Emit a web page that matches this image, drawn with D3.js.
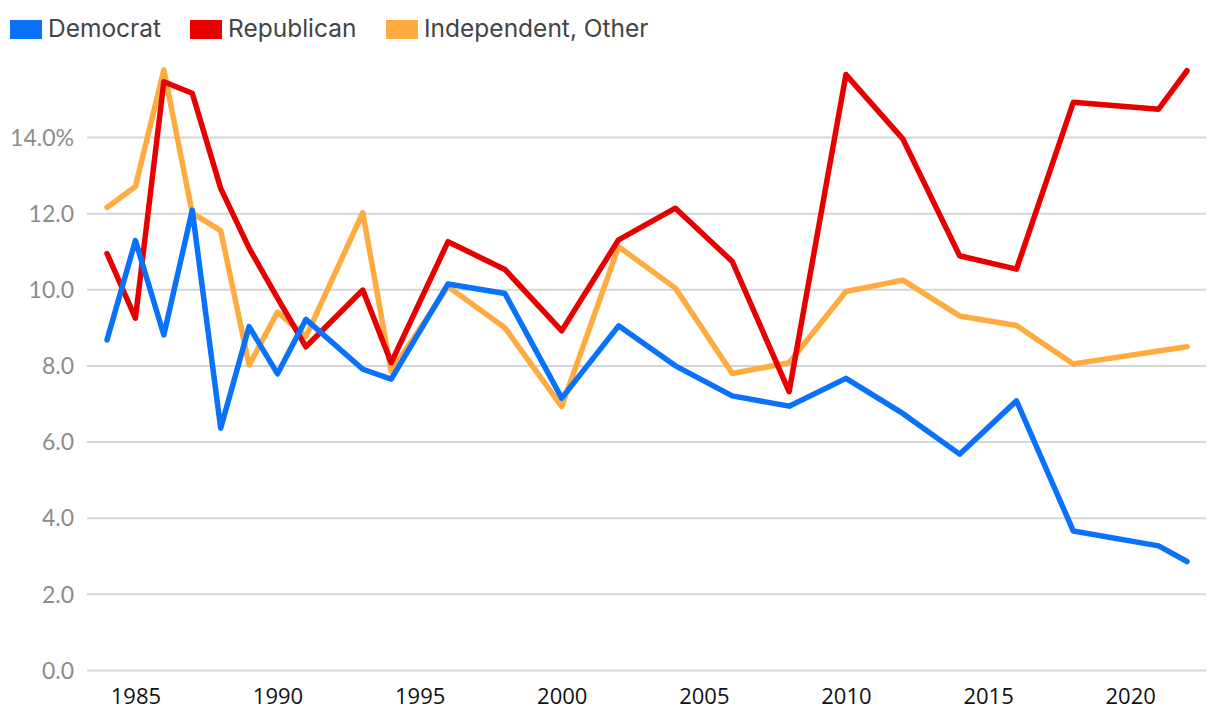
<!DOCTYPE html>
<html>
<head>
<meta charset="utf-8">
<script src="https://cdn.jsdelivr.net/npm/d3@7"></script>
<style>
  html, body { margin: 0; padding: 0; background: #fff; }
  svg { display: block; }
</style>
</head>
<body>
<svg id="chart" width="1220" height="720"></svg>
<script>
const years = [1984, 1985, 1986, 1987, 1988, 1989, 1990, 1991, 1993, 1994, 1996, 1998, 2000, 2002, 2004, 2006, 2008, 2010, 2012, 2014, 2016, 2018, 2021, 2022];
const democrat = [8.67, 11.28, 8.80, 12.08, 6.35, 9.02, 7.78, 9.21, 7.90, 7.64, 10.14, 9.89, 7.14, 9.04, 7.99, 7.20, 6.93, 7.66, 6.74, 5.67, 7.07, 3.65, 3.26, 2.85];
const republican = [10.94, 9.24, 15.45, 15.15, 12.65, 11.08, 9.77, 8.49, 9.98, 8.07, 11.25, 10.52, 8.91, 11.30, 12.13, 10.73, 7.31, 15.64, 13.95, 10.88, 10.53, 14.91, 14.73, 15.74];
const independent = [12.15, 12.70, 15.76, 12.00, 11.54, 8.01, 9.40, 8.76, 12.01, 7.84, 10.07, 8.99, 6.92, 11.12, 10.03, 7.79, 8.07, 9.94, 10.24, 9.30, 9.05, 8.04, 8.38, 8.49];
const seriesNames = ["Democrat", "Republican", "Independent, Other"];
const seriesColors = ["#0a71fb", "#e80000", "#ffab40"];
const yTicks = [0, 2, 4, 6, 8, 10, 12, 14];
const xTicks = [1985, 1990, 1995, 2000, 2005, 2010, 2015, 2020];

const svg = d3.select("#chart");
const x = d3.scaleLinear().domain([1984, 2022]).range([107, 1187]);
const y = d3.scaleLinear().domain([0, 14]).range([670, 137]);

// gridlines
const yAxis = d3.axisLeft(y).tickValues(yTicks).tickSize(-(1206 - 87))
  .tickFormat(d => d === 14 ? d3.format(".1f")(d) + "%" : d3.format(".1f")(d));
const gy = svg.append("g").attr("transform", "translate(87,0)").call(yAxis);
gy.select(".domain").remove();
gy.selectAll(".tick line").attr("stroke", "#d3d6d7").attr("stroke-width", 2);
gy.selectAll(".tick text").attr("x", -13).attr("dy", "0.36em")
  .attr("fill", "#8c8c8c").style("font-family", "Lato, sans-serif").style("font-size", "23px");

const xAxis = d3.axisBottom(x).tickValues(xTicks).tickSize(0).tickFormat(d3.format("d"));
const gx = svg.append("g").attr("transform", "translate(0,670)").call(xAxis);
gx.select(".domain").remove();
gx.selectAll(".tick text").attr("y", 34).attr("dy", 0)
  .attr("fill", "#111").style("font-family", "'Open Sans', sans-serif").style("font-size", "22px");

const all = [democrat, republican, independent];
const line = d3.line().x((d, i) => x(years[i])).y(d => y(d));
const order = [2, 1, 0];
order.forEach(k => {
  svg.append("path").datum(all[k]).attr("d", line)
    .attr("fill", "none").attr("stroke", seriesColors[k]).attr("stroke-width", 5.5)
    .attr("stroke-linejoin", "round").attr("stroke-linecap", "round");
});

// legend
const legendX = [10, 190, 386];
const lg = svg.append("g");
seriesNames.forEach((n, i) => {
  lg.append("rect").attr("x", legendX[i]).attr("y", 20).attr("width", 32).attr("height", 19).attr("fill", seriesColors[i]);
  lg.append("text").attr("x", legendX[i] + 38).attr("y", 37).text(n)
    .attr("fill", "#444").style("font-family", "Inter, sans-serif").style("font-size", "24.5px");
});
</script>
</body>
</html>
